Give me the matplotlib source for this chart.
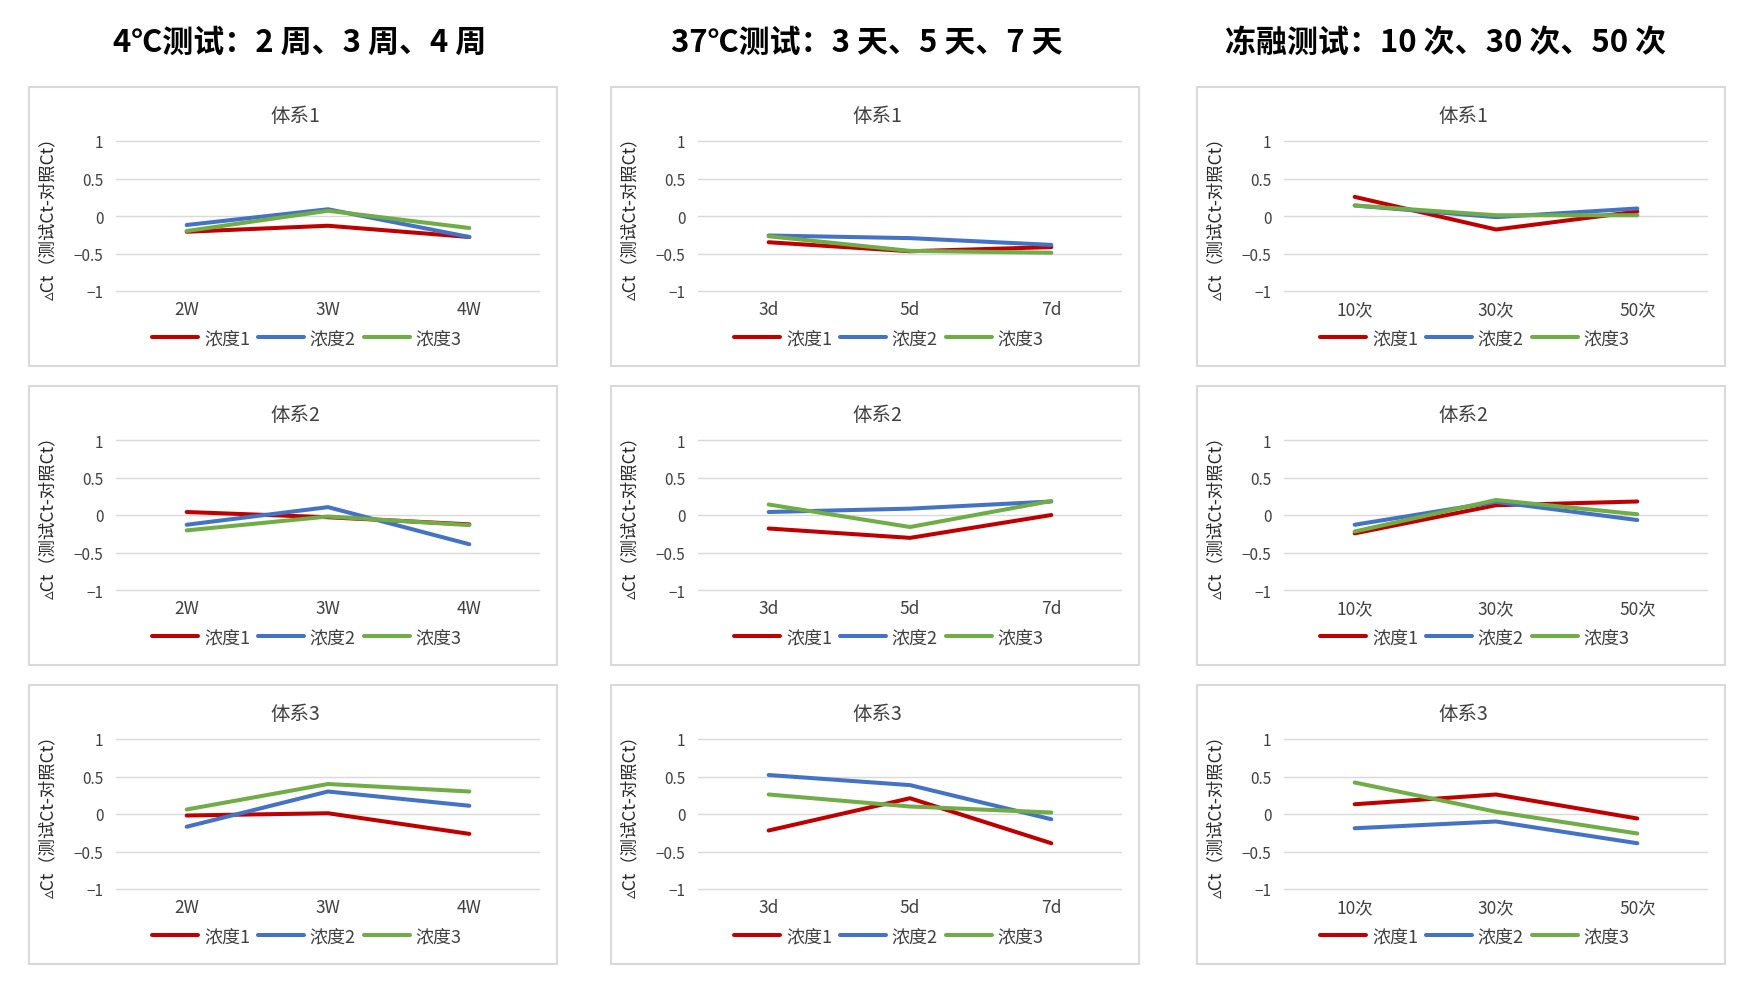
import matplotlib
matplotlib.use("Agg")
import matplotlib.pyplot as plt
from matplotlib.patches import Rectangle

plt.rcParams['font.family'] = ['Noto Sans CJK SC', 'DejaVu Sans']
plt.rcParams['axes.unicode_minus'] = True

# ---------------- data ----------------
main_titles = ["4℃测试：2 周、3 周、4 周", "37℃测试：3 天、5 天、7 天", "冻融测试：10 次、30 次、50 次"]
categories_4c = ["2W", "3W", "4W"]
categories_37c = ["3d", "5d", "7d"]
categories_ft = ["10次", "30次", "50次"]
system_titles = ["体系1", "体系2", "体系3"]
series_names = ["浓度1", "浓度2", "浓度3"]
ytick_values = [-1, -0.5, 0, 0.5, 1]
ytick_labels = ["−1", "−0.5", "0", "0.5", "1"]
ylabel_text = "▵Ct（测试Ct-对照Ct）"

# each panel: [浓度1, 浓度2, 浓度3]
c4_sys1 = [[-0.21, -0.13, -0.28], [-0.12, 0.09, -0.28], [-0.20, 0.07, -0.16]]
c4_sys2 = [[0.04, -0.03, -0.125], [-0.13, 0.105, -0.39], [-0.205, -0.02, -0.135]]
c4_sys3 = [[-0.02, 0.01, -0.265], [-0.17, 0.30, 0.11], [0.06, 0.40, 0.30]]
c37_sys1 = [[-0.35, -0.47, -0.415], [-0.26, -0.295, -0.385], [-0.27, -0.465, -0.49]]
c37_sys2 = [[-0.18, -0.305, 0.0], [0.04, 0.085, 0.18], [0.14, -0.16, 0.187]]
c37_sys3 = [[-0.22, 0.21, -0.39], [0.52, 0.385, -0.07], [0.26, 0.10, 0.02]]
ft_sys1 = [[0.255, -0.18, 0.06], [0.14, -0.015, 0.10], [0.14, 0.01, 0.01]]
ft_sys2 = [[-0.245, 0.13, 0.18], [-0.13, 0.175, -0.067], [-0.22, 0.20, 0.01]]
ft_sys3 = [[0.13, 0.26, -0.06], [-0.19, -0.10, -0.39], [0.42, 0.03, -0.26]]

columns = [
    (categories_4c, [c4_sys1, c4_sys2, c4_sys3]),
    (categories_37c, [c37_sys1, c37_sys2, c37_sys3]),
    (categories_ft, [ft_sys1, ft_sys2, ft_sys3]),
]
series_colors = ["#C00000", "#4472C4", "#70AD47"]

# ---------------- layout ----------------
W, H = 1755, 995
fig = plt.figure(figsize=(W / 100, H / 100), dpi=100)
fig.patch.set_facecolor("white")

col_x = [29, 611, 1197]
row_y = [88, 387, 686]
box_w, box_h = 528, 279
title_x = [300, 867, 1446]


def fx(p):
    return p / W


def fy(p):
    return 1 - p / H


for c, ttl in enumerate(main_titles):
    fig.text(fx(title_x[c]), fy(42.5), ttl, ha="center", va="center",
             fontsize=22.3, fontweight="bold", color="black")

pad_units = 0.03
for c, (cats, panels) in enumerate(columns):
    for r, data in enumerate(panels):
        bl, bt = col_x[c], row_y[r]
        fig.patches.append(Rectangle((fx(bl), fy(bt + box_h)), box_w / W, box_h / H,
                                     transform=fig.transFigure, fill=False,
                                     ec="#d9d9d9", lw=1.5))
        ax_l, ax_r = bl + 87, bl + 511
        ax_t, ax_b = bt + 54, bt + 204
        ppu = (ax_b - ax_t) / 2.0
        ext = pad_units * ppu
        ax = fig.add_axes([fx(ax_l), fy(ax_b + ext), (ax_r - ax_l) / W,
                           (ax_b - ax_t + 2 * ext) / H])
        ax.set_xlim(-0.5, 2.5)
        ax.set_ylim(-1 - pad_units, 1 + pad_units)
        ax.set_yticks(ytick_values)
        ax.set_yticklabels(ytick_labels)
        ax.set_xticks(range(len(cats)))
        ax.set_xticklabels(cats)
        ax.yaxis.grid(True, color="#d9d9d9", lw=1.0)
        ax.set_axisbelow(True)
        for s in ax.spines.values():
            s.set_visible(False)
        ax.tick_params(axis="y", length=0, pad=9, labelsize=11, labelcolor="#404040")
        ax.tick_params(axis="x", length=0, pad=5, labelsize=12.5, labelcolor="#404040")
        for vals, name, col in zip(data, series_names, series_colors):
            ax.plot(range(len(cats)), vals, color=col, lw=2.9, label=name,
                    solid_capstyle="round", solid_joinstyle="round")
        fig.text(fx(bl + 0.504 * box_w), fy(bt + 29), system_titles[r],
                 ha="center", va="center", fontsize=14, color="#404040")
        fig.text(fx(bl + 19), fy((ax_t + ax_b) / 2 - 3), ylabel_text, rotation=90,
                 ha="center", va="center", fontsize=12.5, color="#262626")
        ax.legend(ncol=3, loc="center",
                  bbox_to_anchor=(fx(bl + 0.526 * box_w), fy(bt + 251)),
                  bbox_transform=fig.transFigure, frameon=False,
                  handlelength=2.55, handletextpad=0.3, columnspacing=0.45,
                  fontsize=13, labelcolor="#404040", borderpad=0, borderaxespad=0)

fig.savefig("out.png", dpi=100, facecolor="white")
